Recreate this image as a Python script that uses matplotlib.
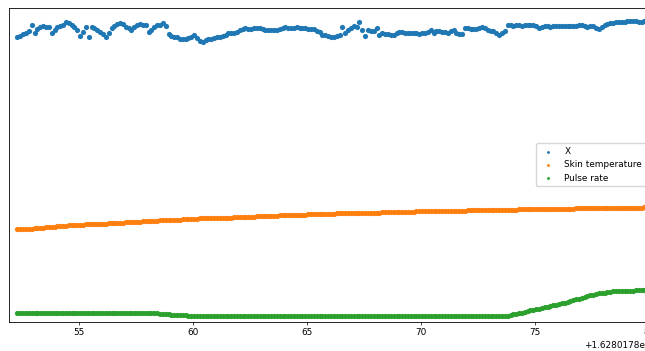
import numpy as np
import matplotlib
matplotlib.use('Agg')
import matplotlib.pyplot as plt

# Sampling: unix timestamps, 8 samples per second
t_start = 1628017852.30
rate_hz = 8.0

# Series values (arbitrary units)
x_signal = [
    90.9, 91.2, 91.7, 91.9, 92.6, 94.7, 91.9, 93.2, 94.0, 94.4,
    94.0, 94.0, 91.9, 93.0, 94.0, 94.4, 94.6, 95.6, 95.1, 94.6,
    94.0, 93.0, 91.1, 92.3, 94.0, 90.9, 93.8, 93.5, 93.0, 92.5,
    91.7, 90.9, 92.1, 93.5, 94.4, 94.9, 95.3, 94.9, 94.0, 93.5,
    93.0, 93.8, 94.6, 94.9, 94.7, 94.6, 92.5, 93.0, 94.0, 94.6,
    94.6, 95.3, 94.3, 91.7, 91.1, 90.9, 90.6, 90.0, 90.1, 90.2,
    90.3, 90.9, 91.4, 90.3, 89.5, 89.3, 89.7, 90.0, 90.2, 90.4,
    90.6, 90.9, 91.0, 91.3, 92.1, 91.9, 92.1, 92.5, 93.0, 93.4,
    93.5, 93.4, 93.4, 93.5, 93.5, 93.5, 93.4, 93.1, 93.0, 93.0,
    93.0, 93.1, 93.2, 93.5, 93.8, 93.7, 93.5, 93.6, 94.0, 93.6,
    93.5, 93.5, 93.4, 93.3, 93.2, 92.8, 92.5, 91.3,
    91.4, 91.0, 90.6, 90.6, 91.1, 91.5, 94.0, 91.9, 93.0, 93.5,
    94.3, 94.0, 95.6, 93.0, 91.1, 93.0, 92.6, 92.8, 93.5, 91.4,
    91.9, 91.8, 91.7, 91.3, 91.5, 91.9, 92.3, 92.2, 92.1, 92.1,
    92.1, 92.1, 91.9, 91.7, 91.9, 92.1, 92.3, 93.0, 91.9, 92.8,
    92.7, 92.5, 92.2, 92.1, 92.6, 93.0, 92.1, 91.8, 91.7, 93.7,
    93.5, 93.4, 93.2, 93.4, 93.5, 93.9,
    93.5, 93.0, 92.8, 92.7, 91.9, 91.4, 92.1, 92.6, 94.6, 94.7,
    94.3, 94.5, 94.6, 94.4, 94.6, 94.7, 94.6, 94.5, 94.3, 93.6,
    93.8, 94.3, 94.2, 94.0, 94.3, 94.4, 94.4, 94.3, 94.3, 94.4,
    94.4, 94.4, 94.3, 94.5, 94.6, 94.3, 94.0, 94.2, 94.3, 93.5,
    93.2, 94.0, 94.6, 94.9, 95.1, 95.3, 95.4, 95.5, 95.6, 95.6,
    95.7, 95.7, 95.7, 95.7, 95.6, 95.6, 95.7, 95.7, 95.7,
]

skin_temp = [
    29.4, 29.4, 29.5, 29.6, 29.7, 29.7, 29.8, 29.9, 30.0, 30.0,
    30.1, 30.1, 30.2, 30.3, 30.4, 30.4, 30.5, 30.6, 30.7, 30.7,
    30.8, 30.8, 30.9, 30.9, 31.0, 31.0, 31.1, 31.1, 31.2, 31.2,
    31.3, 31.3, 31.4, 31.4, 31.5, 31.5, 31.6, 31.6, 31.7, 31.7,
    31.8, 31.8, 31.9, 31.9, 32.0, 32.0, 32.1, 32.1, 32.2, 32.2,
    32.3, 32.3, 32.4, 32.4, 32.4, 32.4, 32.5, 32.5, 32.6, 32.6,
    32.7, 32.7, 32.8, 32.8, 32.9, 32.9, 33.0, 33.0, 33.0, 33.0,
    33.1, 33.1, 33.2, 33.2, 33.2, 33.2, 33.3, 33.3, 33.4, 33.4,
    33.5, 33.5, 33.5, 33.5, 33.6, 33.6, 33.7, 33.7, 33.7, 33.7,
    33.8, 33.8, 33.9, 33.9, 33.9, 33.9, 34.0, 34.0, 34.1, 34.1,
    34.1, 34.1, 34.2, 34.2, 34.3, 34.3, 34.3, 34.3, 34.4, 34.4,
    34.4, 34.4, 34.5, 34.5, 34.5, 34.5, 34.6, 34.6, 34.6, 34.6,
    34.7, 34.7, 34.7, 34.7, 34.8, 34.8, 34.8, 34.8, 34.9, 34.9,
    34.9, 34.9, 35.0, 35.0, 35.0, 35.0, 35.1, 35.1, 35.1, 35.1,
    35.2, 35.2, 35.2, 35.2, 35.2, 35.2, 35.3, 35.3, 35.3, 35.3,
    35.3, 35.3, 35.4, 35.4, 35.4, 35.4, 35.4, 35.4, 35.5, 35.5,
    35.5, 35.5, 35.5, 35.5, 35.6, 35.6, 35.6, 35.6, 35.6, 35.6,
    35.7, 35.7, 35.7, 35.7, 35.7, 35.7, 35.8, 35.8, 35.8, 35.8,
    35.8, 35.8, 35.8, 35.8, 35.9, 35.9, 35.9, 35.9, 35.9, 35.9,
    36.0, 36.0, 36.0, 36.0, 36.0, 36.0, 36.1, 36.1, 36.1, 36.1,
    36.1, 36.1, 36.2, 36.2, 36.2, 36.2, 36.2, 36.2, 36.3, 36.3,
    36.3, 36.3, 36.3, 36.3, 36.4, 36.4, 36.4, 36.4, 36.4, 36.4,
    36.5, 36.5, 36.5,
]

pulse_rate = [
    2.9, 2.9, 2.9, 2.9, 2.9, 2.9, 2.9, 2.9, 2.9, 2.9,
    2.9, 2.9, 2.9, 2.9, 2.9, 2.9, 2.9, 2.9, 2.9, 2.9,
    2.9, 2.9, 2.9, 2.9, 2.9, 2.9, 2.9, 2.9, 2.9, 2.9,
    2.9, 2.9, 2.9, 2.9, 2.9, 2.9, 2.9, 2.9, 2.9, 2.9,
    2.9, 2.9, 2.7, 2.7, 2.7, 2.7, 2.7, 2.7, 2.7, 2.7,
    2.5, 2.5, 2.5, 2.5, 2.1, 2.1, 2.1, 2.1, 2.1, 2.1,
    1.8, 1.8, 1.8, 1.8, 1.8, 1.8, 1.8, 1.8, 1.8, 1.8,
    1.8, 1.8, 1.8, 1.8, 1.8, 1.8, 1.8, 1.8, 1.8, 1.8,
    1.8, 1.8, 1.8, 1.8, 1.8, 1.8, 1.8, 1.8, 1.8, 1.8,
    1.8, 1.8, 1.8, 1.8, 1.8, 1.8, 1.8, 1.8, 1.8, 1.8,
    1.8, 1.8, 1.8, 1.8, 1.8, 1.8, 1.8, 1.8, 1.8, 1.8,
    1.8, 1.8, 1.8, 1.8, 1.8, 1.8, 1.8, 1.8, 1.8, 1.8,
    1.8, 1.8, 1.8, 1.8, 1.8, 1.8, 1.8, 1.8, 1.8, 1.8,
    1.8, 1.8, 1.8, 1.8, 1.8, 1.8, 1.8, 1.8, 1.8, 1.8,
    1.8, 1.8, 1.8, 1.8, 1.8, 1.8, 1.8, 1.8, 1.8, 1.8,
    1.8, 1.8, 1.8, 1.8, 1.8, 1.8, 1.8, 1.8, 1.8, 1.8,
    1.8, 1.8, 1.8, 1.8, 1.8, 1.8, 1.8, 1.8, 1.8, 1.8,
    1.8, 1.8,
    1.9, 2.1, 2.3, 2.5, 2.7, 2.9, 3.1, 3.35, 3.6, 3.8,
    4.0, 4.2, 4.4, 4.6, 4.8, 5.0, 5.2, 5.45, 5.7, 5.9,
    6.1, 6.35, 6.6, 6.85, 7.1, 7.35, 7.6, 7.85, 8.1, 8.35,
    8.6, 8.8, 9.0, 9.15, 9.3, 9.45, 9.6, 9.7, 9.8, 9.85,
    9.9, 9.9, 9.9, 9.9, 9.9, 9.95, 10.0, 10.1, 10.2, 10.25,
    10.3,
]

labels = ['X', 'Skin temperature', 'Pulse rate']

fig = plt.figure(figsize=(6.45, 3.51), dpi=100)
ax = fig.add_axes([0.0147, 0.0835, 0.9933, 0.8937])

for series, label in zip([x_signal, skin_temp, pulse_rate], labels):
    t = t_start + np.arange(len(series)) / rate_hz
    ax.scatter(t, series, s=14, label=label, linewidths=0)

ax.set_xlim(t_start - 0.35, t_start + 27.75)
ax.set_ylim(0, 100)
ax.set_yticks([])

ax.tick_params(axis='x', labelsize=6.4, length=2.2, width=0.5, pad=2)
ax.xaxis.get_offset_text().set_fontsize(6.4)
for spine in ax.spines.values():
    spine.set_linewidth(0.6)

ax.legend(loc='center right', fontsize=6.4, markerscale=0.55)

fig.savefig('out.png', dpi=100)
